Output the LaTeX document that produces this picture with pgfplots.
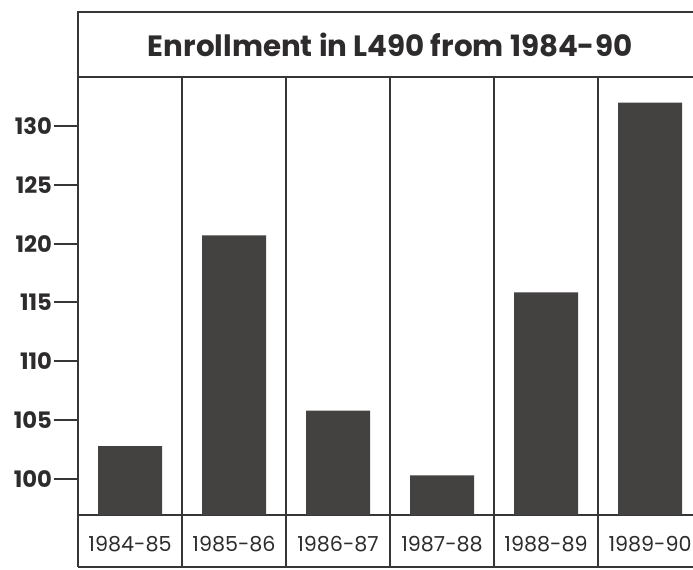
\documentclass[border=0pt]{standalone}
\usepackage{fontspec}
\setmainfont{Poppins}
\usepackage{pgfplots}
\pgfplotsset{compat=1.18}
\definecolor{linec}{RGB}{55,53,53}
\definecolor{barc}{RGB}{68,65,65}
\definecolor{textc}{RGB}{45,43,43}
\begin{document}
\begin{tikzpicture}
\useasboundingbox (0,0) rectangle (519.75pt,426.75pt);
\begin{axis}[
  at={(58.5pt,40.5pt)}, anchor=south west,
  scale only axis, width=461.25pt, height=328.5pt,
  xmin=-0.5, xmax=5.413, ymin=96.94, ymax=134.16,
  clip mode=individual,
  axis x line*=bottom, axis y line*=left,
  axis line style={line width=1.4pt, color=linec, -},
  ytick={100,105,...,130},
  xtick={0,...,5},
  xticklabels={\mbox{1984-85},\mbox{1985-86},\mbox{1986-87},\mbox{1987-88},\mbox{1988-89},\mbox{1989-90}},
  x tick style={draw=none},
  major tick length=18pt,
  tick align=outside,
  y tick style={line width=1.5pt, color=linec},
  /pgf/number format/assume math mode=true,
  yticklabel style={font=\fontsize{17}{20}\selectfont\bfseries, text=textc, xshift=2pt},
  xticklabel style={font=\fontsize{15.5}{18}\selectfont, text=textc, anchor=center, yshift=-4pt},
]
\addplot[ybar, bar width=48pt, fill=barc, draw=none] coordinates {
  (0,102.8) (1,120.7) (2,105.8) (3,100.3) (4,115.85) (5,131.98)
};
% frame decorations
\draw[line width=1.4pt, color=linec] (axis cs:-0.5,92.52) -- (axis cs:-0.5,139.68) -- (axis cs:5.413,139.68);
\draw[line width=1.6pt, color=linec] (axis cs:-0.5,134.16) -- (axis cs:5.413,134.16);
\draw[line width=1pt, color=linec] (axis cs:-0.5,92.52) -- (axis cs:5.413,92.52);
\pgfplotsinvokeforeach{0.5,1.5,2.5,3.5,4.5}{
  \draw[line width=0.9pt, color=linec] (axis cs:#1,92.52) -- (axis cs:#1,134.16);
}
\node[text=textc, font=\fontsize{22}{26}\selectfont\bfseries] at (axis cs:2.5,136.92) {Enrollment in L490 from 1984-90};
\end{axis}
\end{tikzpicture}
\end{document}
